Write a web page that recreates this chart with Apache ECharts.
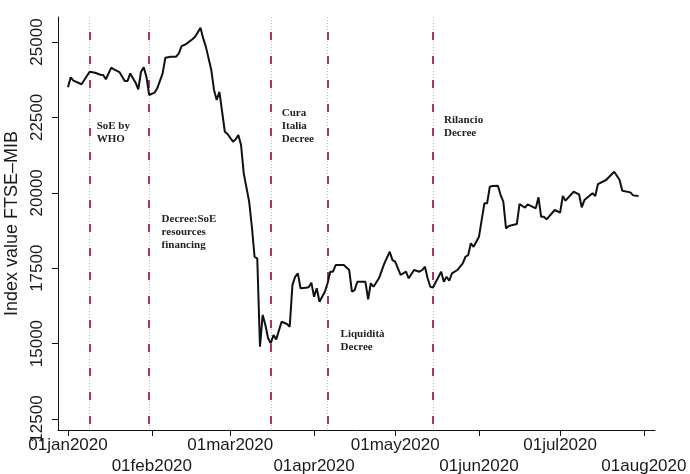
<!DOCTYPE html>
<html>
<head>
<meta charset="utf-8">
<script src="https://cdn.jsdelivr.net/npm/echarts@6/dist/echarts.min.js"></script>
<style>html,body{margin:0;padding:0;background:#fff}#figure0{width:690px;height:474px}</style>
</head>
<body>
<div id="figure0"></div>
<script>
// FTSE-MIB closing level
var dates = ['2020-01-01','2020-01-02','2020-01-03','2020-01-06','2020-01-09','2020-01-11','2020-01-13','2020-01-14','2020-01-15','2020-01-17',
    '2020-01-18','2020-01-20','2020-01-22','2020-01-23','2020-01-24','2020-01-26','2020-01-27','2020-01-28','2020-01-29','2020-01-30',
    '2020-01-31','2020-02-02','2020-02-03','2020-02-05','2020-02-06','2020-02-08','2020-02-10','2020-02-11','2020-02-12','2020-02-13',
    '2020-02-14','2020-02-16','2020-02-17','2020-02-19','2020-02-20','2020-02-21','2020-02-23','2020-02-24','2020-02-25','2020-02-26',
    '2020-02-28','2020-02-29','2020-03-02','2020-03-03','2020-03-04','2020-03-05','2020-03-06','2020-03-08','2020-03-09','2020-03-10',
    '2020-03-11','2020-03-12','2020-03-13','2020-03-14','2020-03-15','2020-03-16','2020-03-17','2020-03-18','2020-03-20','2020-03-22',
    '2020-03-23','2020-03-24','2020-03-25','2020-03-26','2020-03-27','2020-03-29','2020-03-30','2020-03-31','2020-04-01','2020-04-02',
    '2020-04-03','2020-04-05','2020-04-06','2020-04-07','2020-04-08','2020-04-09','2020-04-12','2020-04-14','2020-04-15','2020-04-16',
    '2020-04-17','2020-04-20','2020-04-21','2020-04-22','2020-04-23','2020-04-25','2020-04-27','2020-04-29','2020-04-30','2020-05-01',
    '2020-05-03','2020-05-05','2020-05-06','2020-05-08','2020-05-10','2020-05-11','2020-05-12','2020-05-13','2020-05-14','2020-05-15',
    '2020-05-18','2020-05-19','2020-05-20','2020-05-21','2020-05-22','2020-05-24','2020-05-26','2020-05-27','2020-05-28','2020-05-29',
    '2020-05-30','2020-05-31','2020-06-01','2020-06-03','2020-06-04','2020-06-05','2020-06-06','2020-06-08','2020-06-09','2020-06-10',
    '2020-06-11','2020-06-12','2020-06-15','2020-06-16','2020-06-18','2020-06-19','2020-06-22','2020-06-23','2020-06-24','2020-06-25',
    '2020-06-26','2020-06-29','2020-07-01','2020-07-02','2020-07-03','2020-07-06','2020-07-08','2020-07-09','2020-07-10','2020-07-13',
    '2020-07-14','2020-07-15','2020-07-18','2020-07-21','2020-07-22','2020-07-23','2020-07-24','2020-07-27','2020-07-28','2020-07-30'];
var values = [23500,23830,23720,23600,24015,23980,23915,23905,23765,24150,
    24095,24005,23705,23705,23960,23650,23430,24015,24160,23850,
    23245,23320,23465,23960,24480,24515,24515,24625,24865,24900,
    24955,25090,25175,25470,25120,24840,24070,23410,23080,23350,
    22025,21950,21695,21775,21915,21585,20645,19705,18875,17880,
    17820,14900,15950,15615,15175,15010,15285,15140,15725,15650,
    15560,16940,17215,17330,16835,16855,16865,17020,16555,16835,
    16390,16720,17000,17385,17385,17605,17605,17440,16720,16775,
    17050,17050,16470,17000,16885,17165,17660,18045,17770,17715,
    17275,17385,17165,17440,17385,17440,17550,17165,16885,16860,
    17380,17050,17215,17085,17330,17440,17660,17880,17935,18325,
    18210,18380,18545,19650,19650,20200,20225,20235,19925,19705,
    18820,18900,18965,19630,19505,19620,19485,19850,19205,19205,
    19120,19430,19340,19895,19740,20035,19950,19520,19760,19985,
    19895,20290,20425,20700,20565,20425,20070,20015,19915,19895];

var tickDates = ['2020-01-01','2020-02-01','2020-03-01','2020-04-01','2020-05-01','2020-06-01','2020-07-01','2020-08-01'];
var monthNames = ['jan','feb','mar','apr','may','jun','jul','aug','sep','oct','nov','dec'];
var yTicks = [12500, 15000, 17500, 20000, 22500, 25000];

var eventDates = ['2020-01-09','2020-01-31','2020-03-16','2020-04-06','2020-05-15'];
var eventLabels = ['SoE by\nWHO', 'Decree:SoE\nresources\nfinancing', 'Cura\nItalia\nDecree', 'Liquidità\nDecree', 'Rilancio\nDecree'];
var eventLabelLevels = [22430, 19350, 22850, 15520, 22630];

function toTime(s) {
    var p = s.split('-');
    return new Date(+p[0], +p[1] - 1, +p[2]).getTime();
}

var DAY = 86400000;
var jan1 = toTime('2020-01-01');
var yMin = 12135, yMax = 25830;
var labelShift = [7, 12.5, 11, 13, 11];

var seriesData = dates.map(function (d, i) { return [toTime(d), values[i]]; });
var tickTimes = tickDates.map(toTime);

var markLines = [];
eventDates.forEach(function (d) {
    var t = toTime(d);
    markLines.push([{coord: [t, yMax], lineStyle: {color: '#b8b8b8', width: 1, type: [1, 2]}}, {coord: [t, yMin]}]);
    markLines.push([{coord: [t, yMax], lineStyle: {color: '#b2325e', width: 2, type: [8, 16], dashOffset: 9}}, {coord: [t, yMin]}]);
});

var markPoints = eventDates.map(function (d, i) {
    return {
        coord: [toTime(d), eventLabelLevels[i]],
        label: {offset: [labelShift[i], 0]},
        value: eventLabels[i]
    };
});

var figure0 = echarts.init(document.getElementById('figure0'));
var option = {
    animation: false,
    backgroundColor: '#fff',
    grid: {left: 58, right: 35, top: 17, bottom: 44, containLabel: false, outerBoundsMode: 'none'},
    xAxis: {
        type: 'value',
        min: jan1 - 3.7 * DAY,
        max: jan1 + 217.1 * DAY,
        axisLine: {show: true, onZero: false, lineStyle: {color: '#111', width: 1}},
        axisTick: {show: true, customValues: tickTimes, length: 6, lineStyle: {color: '#111'}},
        splitLine: {show: false},
        axisLabel: {
            customValues: tickTimes,
            margin: 5,
            fontSize: 17,
            lineHeight: 21,
            fontFamily: 'Liberation Sans',
            color: '#1a1a1a',
            hideOverlap: false,
            formatter: function (v) {
                var d = new Date(v);
                var txt = '01' + monthNames[d.getMonth()] + d.getFullYear();
                return d.getMonth() % 2 ? '\n' + txt : txt;
            }
        }
    },
    yAxis: {
        type: 'value',
        min: yMin,
        max: yMax,
        name: 'Index value FTSE\u2013MIB',
        nameLocation: 'middle',
        nameGap: 37,
        nameTextStyle: {fontSize: 18, fontFamily: 'Liberation Sans', color: '#1a1a1a'},
        axisLine: {show: true, onZero: false, lineStyle: {color: '#111', width: 1}},
        axisTick: {show: true, customValues: yTicks, length: 6, lineStyle: {color: '#111'}},
        splitLine: {show: false},
        axisLabel: {
            customValues: yTicks,
            rotate: 90,
            margin: 12,
            fontSize: 17,
            fontFamily: 'Liberation Sans',
            color: '#1a1a1a',
            hideOverlap: false,
            formatter: function (v) { return String(v); }
        }
    },
    series: [{
        type: 'line',
        data: seriesData,
        showSymbol: false,
        symbol: 'none',
        lineStyle: {color: '#111', width: 2},
        z: 5,
        markLine: {
            silent: true,
            symbol: 'none',
            label: {show: false},
            data: markLines,
            z: 3
        },
        markPoint: {
            silent: true,
            symbol: 'circle',
            symbolSize: 0,
            label: {
                show: true,
                position: [0, 0],
                align: 'left',
                verticalAlign: 'top',
                fontFamily: 'Liberation Serif',
                fontWeight: 'bold',
                fontSize: 11,
                lineHeight: 13,
                color: '#222',
                formatter: function (p) { return p.value; }
            },
            data: markPoints
        }
    }]
};
figure0.setOption(option);
</script>
</body>
</html>
